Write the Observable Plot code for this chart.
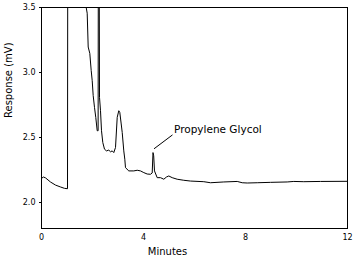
<!DOCTYPE html>
<html>
<head>
<meta charset="utf-8">
<script src="https://cdn.jsdelivr.net/npm/d3@7"></script>
<script src="https://cdn.jsdelivr.net/npm/@observablehq/plot@0.6"></script>
<style>
  html, body { margin: 0; padding: 0; background: #fff; }
  svg { display: block; }
</style>
</head>
<body>
<div id="chart"></div>
<script>
// Time (minutes) and detector response (mV).
// Values above 3.5 are off-scale peaks (clipped by the frame).
const minutes = [
  0, 0.08, 0.16, 0.35, 0.55, 0.75, 0.90, 1.02, 1.03,
  1.70, 1.753, 1.792, 1.831, 1.894, 1.949, 1.988, 2.027, 2.078, 2.129, 2.184,
  2.22, 2.23, 2.26, 2.275, 2.314, 2.353, 2.404, 2.471, 2.549, 2.639, 2.706, 2.773, 2.835,
  2.902, 2.969, 3.031, 3.071, 3.126, 3.165, 3.227, 3.267, 3.294, 3.424, 3.620, 3.753,
  3.882, 4.012, 4.145, 4.275, 4.341, 4.373, 4.40, 4.431, 4.537, 4.667, 4.796, 4.9,
  4.992, 5.125, 5.321, 5.580, 5.843, 6.365, 6.627, 7.149, 7.675, 7.871, 8.067, 8.459,
  8.980, 9.635, 9.894, 10.286, 10.941, 11.988
];
const response = [
  2.186, 2.196, 2.189, 2.158, 2.134, 2.119, 2.109, 2.106, 4.0,
  4.0, 3.5, 3.456, 3.196, 3.147, 3.015, 2.938, 2.822, 2.732, 2.654, 2.552,
  2.552, 4.0, 4.0, 2.809, 2.706, 2.552, 2.461, 2.410, 2.397, 2.403, 2.390, 2.397, 2.384,
  2.423, 2.655, 2.706, 2.693, 2.604, 2.539, 2.397, 2.333, 2.268, 2.243, 2.243, 2.248,
  2.243, 2.230, 2.219, 2.217, 2.227, 2.384, 2.359, 2.243, 2.191, 2.191, 2.179, 2.196,
  2.204, 2.191, 2.179, 2.171, 2.165, 2.160, 2.152, 2.158, 2.162, 2.152, 2.150, 2.152,
  2.155, 2.158, 2.162, 2.160, 2.162, 2.163
];
const xTicks = [0, 4, 8, 12];
const yTicks = [2.0, 2.5, 3.0, 3.5];
const peakLabel = "Propylene Glycol";
const peakPoint = [4.412, 2.413];
const labelPoint = [5.137, 2.52];
const labelText = [5.196, 2.559];

const data = minutes.map((t, i) => ({t, v: response[i]}));

const chart = Plot.plot({
  width: 357,
  height: 258,
  marginLeft: 41,
  marginTop: 7,
  marginRight: 10,
  marginBottom: 30,
  style: {fontFamily: "DejaVu Sans", background: "#fff", color: "#000"},
  x: {domain: [0, 12]},
  y: {domain: [1.8, 3.5]},
  marks: [
    Plot.axisY(yTicks, {
      tickSize: 2, tickPadding: 4, label: null, fontSize: 8,
      tickFormat: d => d.toFixed(1), style: "letter-spacing:1px"
    }),
    Plot.axisX(xTicks, {
      tickSize: 0, tickPadding: 6, label: null, fontSize: 8,
      tickFormat: d => String(d), style: "letter-spacing:1px"
    }),
    Plot.lineY(data, {x: "t", y: "v", stroke: "black", strokeWidth: 1, clip: true, curve: "linear"}),
    Plot.link([0], {
      x1: () => peakPoint[0], y1: () => peakPoint[1],
      x2: () => labelPoint[0], y2: () => labelPoint[1],
      stroke: "black", strokeWidth: 1
    }),
    Plot.text([peakLabel], {
      x: () => labelText[0], y: () => labelText[1], text: d => d,
      textAnchor: "start", lineAnchor: "middle", fontSize: 10.5,
      style: "letter-spacing:0.5px", fill: "black"
    }),
    Plot.text(["Minutes"], {
      frameAnchor: "bottom", dx: -27, dy: 23, lineAnchor: "middle",
      text: d => d, fontSize: 10, fill: "black", style: "letter-spacing:0.5px"
    }),
    Plot.text(["Response (mV)"], {
      frameAnchor: "left", dx: -33, rotate: -90, lineAnchor: "middle",
      text: d => d, fontSize: 10, fill: "black", style: "letter-spacing:0.5px"
    }),
    Plot.frame({stroke: "black", strokeWidth: 1})
  ]
});
document.getElementById("chart").appendChild(chart);
</script>
</body>
</html>
